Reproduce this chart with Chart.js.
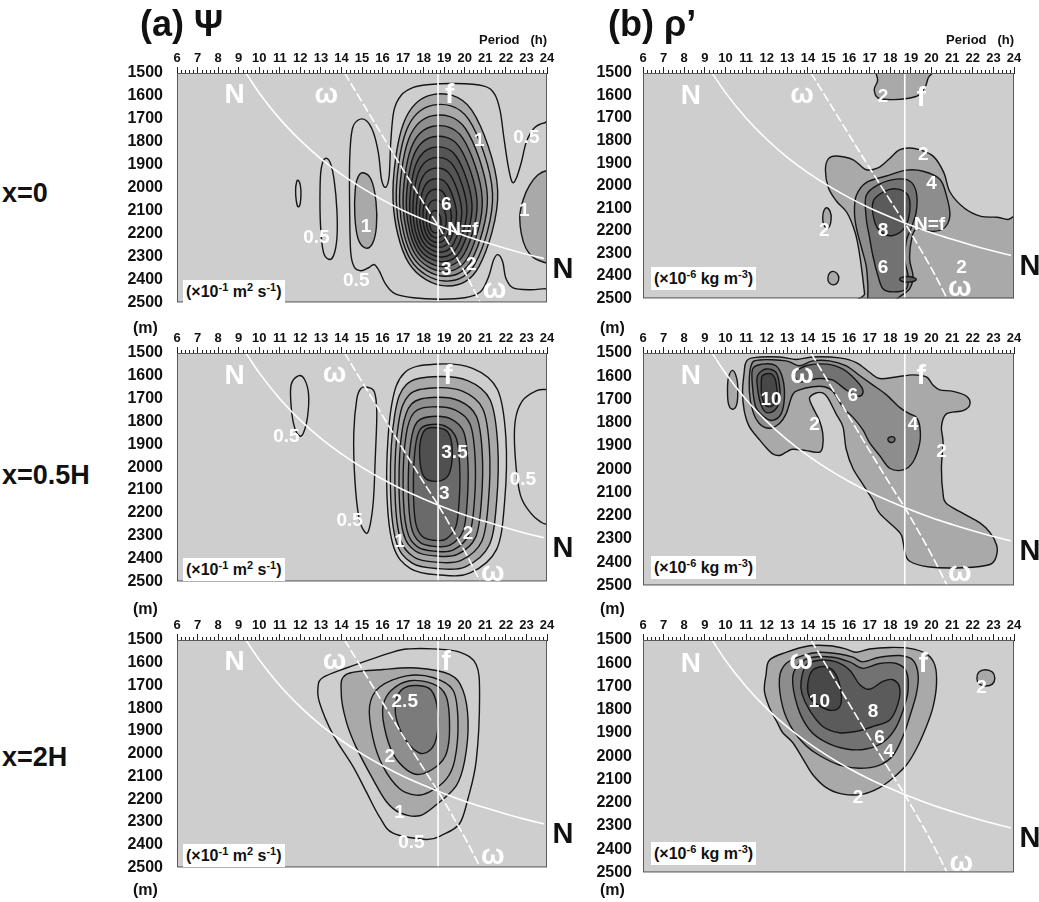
<!DOCTYPE html>
<html>
<head>
<meta charset="utf-8">
<title>Period–depth spectra of Ψ and ρ'</title>
<script src="https://cdn.jsdelivr.net/npm/chart.js@4.4.1/dist/chart.umd.min.js"></script>
<style>
  html, body { margin: 0; padding: 0; background: #fff; }
  body { position: relative; width: 1039px; height: 902px; overflow: hidden;
         font-family: "Liberation Sans", Arial, Helvetica, sans-serif; color: #111; }
  canvas { position: absolute; z-index: 1; }
  .txt { position: absolute; z-index: 2; font-weight: bold; white-space: nowrap; line-height: 1; }
  .unit { position: absolute; z-index: 2; background: #fff; font-weight: bold; font-size: 16px; line-height: 1;
          padding: 4px 3px 3px 3px; white-space: nowrap; }
  .unit sup { font-size: 11px; vertical-align: 6px; line-height: 0; }
</style>
</head>
<body>
<div class="txt" style="left:140px;top:6px;font-size:36px;">(a) Ψ</div>
<div class="txt" style="left:608px;top:6px;font-size:36px;">(b) ρ’</div>
<div class="txt" style="left:2px;top:180px;font-size:27px;">x=0</div>
<div class="txt" style="left:2px;top:462px;font-size:27px;">x=0.5H</div>
<div class="txt" style="left:2px;top:744px;font-size:27px;">x=2H</div>
<div class="txt" style="left:133px;top:320px;font-size:16px;">(m)</div>
<div class="txt" style="left:133px;top:601px;font-size:16px;">(m)</div>
<div class="txt" style="left:133px;top:882px;font-size:16px;">(m)</div>
<div class="txt" style="left:600px;top:320px;font-size:16px;">(m)</div>
<div class="txt" style="left:600px;top:601px;font-size:16px;">(m)</div>
<div class="txt" style="left:600px;top:882px;font-size:16px;">(m)</div>
<div class="unit" style="left:183px;top:280px;">(×10<sup>-1</sup> m<sup>2</sup> s<sup>-1</sup>)</div>
<div class="unit" style="left:183px;top:558px;">(×10<sup>-1</sup> m<sup>2</sup> s<sup>-1</sup>)</div>
<div class="unit" style="left:183px;top:844px;">(×10<sup>-1</sup> m<sup>2</sup> s<sup>-1</sup>)</div>
<div class="unit" style="left:651px;top:267px;">(×10<sup>-6</sup> kg m<sup>-3</sup>)</div>
<div class="unit" style="left:651px;top:556px;">(×10<sup>-6</sup> kg m<sup>-3</sup>)</div>
<div class="unit" style="left:651px;top:842px;">(×10<sup>-6</sup> kg m<sup>-3</sup>)</div>

<script>
const FONT = '"Liberation Sans", Arial, Helvetica, sans-serif';

// ---- axes ----
const periodTicks = [6,7,8,9,10,11,12,13,14,15,16,17,18,19,20,21,22,23,24];
const depthTicks = [1500,1600,1700,1800,1900,2000,2100,2200,2300,2400,2500];

// ---- reference curves: [period (h), depth (m)] ----
const buoyancyCurve = [[9.35,1500],[10,1587],[11,1700],[12,1794],[13,1874],[14,1942],[15,2001],
  [16,2053],[17,2099],[18,2139],[18.7,2165],[20,2209],[21,2238],[22,2265],[23,2290],[23.85,2309]];
const omegaCurve = [[14.15,1500],[15.5,1700],[16.85,1900],[18.2,2095],[18.7,2165],[19.35,2265],
  [20.1,2385],[20.75,2500]];
const inertialLine = [[18.7,1500],[18.7,2500]];

// ---- contours: [level, [[period, depth], ...]] (closed outlines) ----
const psiX0 = [
  [0.5, [[11.9,1968],[12.0,1990],[12.03,2030],[11.98,2075],[11.88,2082],[11.8,2055],[11.77,2010],[11.82,1975]]],
  [0.5, [[13.2,1873],[13.45,1890],[13.65,1970],[13.78,2100],[13.78,2220],[13.62,2295],[13.38,2312],[13.12,2280],[12.98,2160],[12.96,2000],[13.02,1915]]],
  [0.5, [[24.5,1717],[23.9,1717],[23.4,1738],[23.0,1800],[22.75,1890],[22.5,1960],[22.3,1975],[22.1,1900],[21.9,1780],[21.72,1665],[21.45,1592],[20.9,1556],[19.5,1546],[18.3,1550],[17.5,1563],[16.9,1598],[16.55,1665],[16.4,1800],[16.32,1950],[16.15,1998],[15.95,1965],[15.8,1850],[15.55,1758],[15.2,1707],[14.8,1706],[14.52,1748],[14.4,1880],[14.4,2100],[14.45,2280],[14.62,2345],[14.95,2362],[15.3,2350],[15.6,2335],[15.85,2365],[16.15,2420],[16.6,2462],[17.5,2480],[18.8,2486],[20.0,2480],[20.75,2455],[21.15,2390],[21.4,2315],[21.62,2292],[21.85,2325],[22.0,2395],[22.35,2437],[23.2,2445],[23.9,2440],[24.5,2440]]],
  [1, [[15.05,1935],[15.45,1965],[15.68,2060],[15.7,2170],[15.5,2245],[15.15,2262],[14.8,2220],[14.65,2120],[14.67,2010],[14.8,1955]]],
  [1, [[24.5,1925],[24,1925],[23.55,1945],[23.15,1990],[22.85,2050],[22.68,2120],[22.75,2200],[22.98,2265],[23.35,2305],[23.75,2322],[24,2328],[24.5,2330]]],
  [1, [[18.44,1594],[20.33,1661],[21.6,2011],[20.68,2345],[19.06,2428],[17.27,2328],[16.51,2053],[17.02,1719]]],
  [1.5, [[18.45,1640],[20.18,1701],[21.35,2024],[20.51,2330],[19.01,2407],[17.37,2315],[16.67,2062],[17.14,1755]]],
  [2, [[18.45,1686],[20.03,1742],[21.1,2036],[20.33,2316],[18.97,2386],[17.47,2302],[16.83,2071],[17.26,1791]]],
  [2.5, [[18.46,1732],[19.89,1783],[20.85,2049],[20.16,2302],[18.93,2365],[17.58,2289],[17.0,2080],[17.39,1827]]],
  [3, [[18.47,1778],[19.74,1823],[20.6,2061],[19.98,2287],[18.88,2344],[17.68,2276],[17.16,2089],[17.5,1863]]],
  [3.5, [[18.47,1824],[19.59,1864],[20.35,2074],[19.8,2273],[18.84,2323],[17.77,2263],[17.32,2098],[17.62,1899]]],
  [4, [[18.48,1870],[19.45,1905],[20.1,2086],[19.63,2259],[18.79,2302],[17.87,2250],[17.48,2108],[17.74,1935]]],
  [4.5, [[18.48,1916],[19.3,1945],[19.85,2099],[19.45,2245],[18.75,2281],[17.97,2237],[17.64,2117],[17.86,1971]]],
  [5, [[18.48,1962],[19.15,1986],[19.6,2111],[19.28,2230],[18.7,2260],[18.07,2224],[17.8,2126],[17.98,2007]]],
  [5.5, [[18.49,2008],[19.0,2026],[19.35,2124],[19.1,2216],[18.66,2239],[18.18,2211],[17.97,2135],[18.11,2043]]],
  [6, [[18.5,2054],[18.86,2067],[19.1,2136],[18.93,2202],[18.62,2218],[18.28,2198],[18.13,2144],[18.23,2079]]],
  [6.5, [[18.5,2100],[18.71,2108],[18.85,2149],[18.75,2187],[18.57,2197],[18.37,2185],[18.29,2153],[18.35,2115]]]
];
const psiX05 = [
  [0.5, [[11.9,1600],[12.2,1615],[12.4,1680],[12.35,1780],[12.15,1850],[11.95,1862],[11.7,1820],[11.55,1730],[11.55,1640]]],
  [0.5, [[15.25,1650],[15.6,1670],[15.72,1760],[15.65,1950],[15.55,2150],[15.35,2270],[15.15,2285],[14.85,2220],[14.65,2050],[14.6,1850],[14.75,1700],[14.95,1655]]],
  [0.5, [[24.5,1660],[24,1660],[23.5,1665],[22.8,1710],[22.45,1800],[22.45,1950],[22.7,2120],[23.2,2200],[23.7,2240],[24,2250],[24.5,2250]]],
  [0.5, [[18.52,1549],[20.38,1567],[21.59,1660],[22.0,1872],[21.94,2149],[21.54,2361],[20.26,2463],[18.81,2472],[17.36,2444],[16.49,2334],[16.2,2057],[16.43,1734],[17.07,1586]]],
  [1, [[18.47,1604],[20.14,1621],[21.23,1705],[21.6,1898],[21.55,2150],[21.18,2343],[20.03,2436],[18.73,2444],[17.42,2419],[16.64,2318],[16.38,2066],[16.59,1772],[17.16,1638]]],
  [1.5, [[18.44,1653],[19.91,1668],[20.88,1745],[21.2,1920],[21.15,2149],[20.83,2324],[19.82,2408],[18.67,2416],[17.52,2393],[16.83,2302],[16.6,2073],[16.78,1806],[17.29,1684]]],
  [2, [[18.42,1695],[19.72,1709],[20.57,1778],[20.85,1938],[20.81,2146],[20.53,2306],[19.64,2382],[18.62,2389],[17.61,2368],[17.0,2285],[16.8,2077],[16.96,1834],[17.41,1723]]],
  [2.5, [[18.4,1736],[19.52,1749],[20.26,1812],[20.5,1957],[20.47,2147],[20.22,2292],[19.45,2362],[18.58,2368],[17.7,2349],[17.18,2273],[17.0,2084],[17.14,1862],[17.53,1761]]],
  [3, [[18.41,1778],[19.34,1789],[19.95,1846],[20.15,1977],[20.12,2148],[19.92,2279],[19.28,2341],[18.56,2347],[17.83,2330],[17.4,2262],[17.25,2091],[17.37,1892],[17.69,1801]]],
  [3.5, [[18.4,1813],[19.12,1823],[19.59,1874],[19.75,1990],[19.73,2143],[19.57,2259],[19.08,2315],[18.51,2320],[17.95,2305],[17.61,2244],[17.5,2092],[17.59,1914],[17.84,1833]]],
  [4, [[18.44,1826],[19.16,1845],[19.4,1932],[19.21,2034],[18.6,2062],[17.99,2038],[17.8,1932],[17.99,1845]]]
];
const psiX2 = [
  [0.5, [[17.32,1539],[18.45,1539],[19.75,1553],[20.56,1609],[20.72,1749],[20.56,2028],[20.16,2196],[19.75,2307],[18.94,2356],[18.13,2377],[16.51,2349],[15.86,2279],[15.21,2168],[14.56,2056],[13.59,1916],[12.94,1777],[12.86,1707],[13.1,1665],[14.24,1623],[16.5,1553]]],
  [1, [[16.02,1630],[17.64,1623],[19.26,1651],[19.91,1721],[20.16,1860],[20.0,2028],[19.59,2140],[18.62,2224],[17.8,2273],[16.83,2259],[16.18,2210],[15.53,2112],[14.72,1972],[14.24,1860],[13.99,1735],[14.24,1651]]],
  [1.5, [[17.16,1658],[18.45,1665],[19.43,1721],[19.67,1860],[19.51,2028],[19.1,2112],[18.29,2168],[17.64,2182],[16.83,2154],[16.02,2056],[15.53,1930],[15.37,1791],[15.86,1707]]],
  [2, [[17.32,1679],[18.45,1693],[19.1,1749],[19.26,1888],[19.1,2000],[18.62,2056],[17.8,2091],[17.16,2070],[16.51,2000],[16.1,1888],[16.02,1791],[16.43,1721]]],
  [2.5, [[17.64,1700],[18.37,1721],[18.7,1819],[18.62,1930],[18.29,1986],[17.8,1997],[17.16,1944],[16.67,1846],[16.67,1763],[17.0,1714]]]
];
const rhoX0 = [
  [2, [[17.2,1480],[17.3,1500],[17.38,1535],[17.22,1572],[17.4,1610],[18.1,1618],[18.9,1612],[19.4,1597],[19.7,1560],[19.85,1520],[20.05,1500],[20.1,1480]]],
  [2, [[14.85,1930],[15.0,1880],[15.4,1868],[16.2,1885],[16.8,1928],[17.4,1921],[17.9,1885],[18.4,1843],[18.9,1833],[19.4,1840],[20.1,1871],[20.6,1943],[20.9,2029],[21.6,2100],[22.4,2136],[23.2,2140],[23.7,2150],[24.5,2150],[24.5,2530],[16.8,2530],[16.75,2480],[16.65,2400],[16.5,2300],[16.3,2210],[15.9,2120],[15.4,2070],[15.0,2010]]],
  [2, [[14.92,2098],[15.08,2115],[15.13,2145],[15.05,2180],[14.9,2188],[14.76,2170],[14.72,2140],[14.78,2110]]],
  [2, [[15.22,2380],[15.42,2390],[15.5,2410],[15.42,2432],[15.22,2440],[15.03,2430],[14.97,2410],[15.05,2388]]],
  [4, [[16.83,1986],[17.8,1957],[18.78,1931],[19.59,1936],[20.4,1971],[20.72,2043],[20.89,2129],[20.64,2186],[20.07,2203],[19.26,2193],[19.02,2243],[18.94,2329],[19.1,2400],[18.94,2457],[18.45,2493],[17.8,2530],[16.99,2530],[16.91,2443],[16.83,2357],[16.59,2271],[16.35,2186],[16.26,2114],[16.35,2043]]],
  [6, [[17.48,1993],[18.29,1971],[18.94,1979],[19.26,2029],[19.26,2114],[19.02,2186],[18.78,2243],[18.7,2329],[18.86,2400],[18.78,2457],[18.13,2471],[17.64,2457],[17.4,2400],[17.16,2314],[16.99,2229],[16.83,2143],[16.83,2043]]],
  [8, [[17.64,2029],[18.29,2014],[18.86,2043],[18.94,2114],[18.7,2186],[18.13,2221],[17.56,2207],[17.23,2157],[17.16,2071]]],
  [8, [[18.86,2403],[19.15,2408],[19.26,2415],[19.15,2424],[18.86,2428],[18.55,2424],[18.45,2415],[18.55,2407]]]
];
const rhoX05 = [
  [2, [[10.35,1575],[10.55,1610],[10.6,1660],[10.55,1720],[10.35,1742],[10.15,1720],[10.1,1660],[10.15,1605]]],
  [2, [[10.99,1541],[11.32,1521],[12.62,1517],[13.43,1528],[14.24,1517],[15.53,1521],[16.35,1541],[16.99,1583],[17.48,1610],[18.29,1603],[19.1,1594],[19.75,1603],[20.07,1638],[20.4,1659],[21.05,1665],[21.7,1686],[21.86,1721],[21.53,1748],[20.72,1762],[20.48,1817],[20.56,1886],[20.48,1996],[20.56,2107],[20.72,2148],[21.53,2190],[22.35,2231],[22.83,2272],[23.16,2327],[23.16,2369],[22.83,2410],[21.53,2424],[19.91,2421],[18.94,2396],[18.7,2355],[18.62,2314],[18.45,2272],[17.48,2190],[17.16,2134],[16.67,2065],[16.18,1996],[15.86,1914],[15.7,1817],[15.37,1762],[14.97,1693],[14.72,1672],[14.4,1672],[14.08,1693],[14.24,1734],[14.56,1790],[14.72,1845],[14.72,1900],[14.56,1927],[13.91,1920],[13.26,1914],[12.94,1927],[12.62,1941],[12.29,1934],[11.97,1907],[11.64,1872],[11.16,1817],[10.91,1748],[10.83,1665],[10.91,1583]]],
  [4, [[11.24,1555],[11.64,1530],[12.94,1534],[13.59,1555],[14.24,1534],[15.05,1534],[15.86,1555],[16.51,1597],[17.16,1638],[17.8,1679],[18.45,1734],[18.94,1762],[19.26,1776],[19.43,1817],[19.43,1886],[19.1,1969],[18.62,2003],[17.97,1996],[17.48,1941],[16.99,1886],[16.67,1831],[16.18,1776],[15.7,1734],[15.21,1665],[14.8,1645],[14.24,1645],[13.59,1659],[13.26,1679],[12.94,1762],[12.62,1803],[12.13,1824],[11.64,1803],[11.32,1748],[11.16,1665]]],
  [6, [[11.32,1569],[11.8,1548],[12.45,1555],[12.78,1610],[12.86,1693],[12.7,1762],[12.29,1790],[11.89,1776],[11.48,1734],[11.32,1652]]],
  [6, [[13.35,1590],[13.91,1555],[14.89,1548],[15.7,1569],[16.18,1603],[16.59,1645],[16.67,1672],[16.43,1686],[15.86,1659],[15.21,1617],[14.56,1610],[14.08,1617],[13.59,1624]]],
  [6, [[18.05,1860],[18.2,1865],[18.22,1874],[18.15,1883],[18.02,1885],[17.9,1878],[17.9,1867]]],
  [8, [[11.56,1597],[11.97,1569],[12.45,1583],[12.62,1638],[12.62,1707],[12.37,1748],[11.97,1755],[11.72,1721],[11.56,1652]]],
  [10, [[11.8,1597],[12.21,1590],[12.45,1624],[12.48,1693],[12.29,1727],[11.97,1727],[11.77,1686],[11.74,1631]]]
];
const rhoX2 = [
  [2, [[11.97,1650],[12.13,1587],[12.94,1553],[14.08,1525],[15.05,1525],[15.86,1539],[16.35,1553],[16.99,1539],[17.97,1532],[18.94,1536],[19.75,1560],[20.16,1608],[20.24,1691],[20.07,1789],[19.75,1872],[19.26,1969],[18.78,2038],[18.13,2094],[17.48,2135],[16.67,2163],[15.7,2163],[14.89,2135],[14.24,2080],[13.75,2010],[13.26,1941],[12.78,1899],[12.53,1858],[12.13,1789],[11.89,1719]]],
  [2, [[22.6,1628],[22.95,1638],[23.07,1665],[22.95,1690],[22.6,1698],[22.3,1688],[22.2,1663],[22.3,1638]]],
  [4, [[12.62,1664],[12.94,1601],[13.75,1567],[14.56,1553],[15.53,1560],[16.18,1574],[16.67,1594],[17.48,1574],[18.45,1567],[19.1,1587],[19.35,1650],[19.26,1733],[18.94,1830],[18.62,1913],[18.13,1997],[17.48,2038],[16.51,2052],[15.53,2038],[14.56,1997],[13.91,1955],[13.26,1886],[12.78,1789]]],
  [6, [[13.26,1664],[13.59,1601],[14.24,1574],[15.21,1574],[16.02,1594],[16.67,1622],[17.48,1601],[18.29,1601],[18.78,1636],[18.86,1719],[18.62,1802],[18.21,1886],[17.64,1941],[16.83,1969],[15.86,1969],[14.89,1941],[14.08,1886],[13.51,1789]]],
  [8, [[13.67,1678],[13.91,1608],[14.56,1587],[15.37,1594],[16.02,1629],[16.51,1691],[16.99,1712],[17.64,1678],[18.13,1671],[18.45,1705],[18.37,1775],[17.97,1844],[17.16,1872],[16.35,1893],[15.53,1899],[14.72,1872],[14.08,1802],[13.72,1733]]],
  [10, [[13.99,1691],[14.24,1629],[14.89,1615],[15.37,1650],[15.62,1733],[15.53,1789],[15.05,1802],[14.4,1775],[14.08,1747]]]
];

// ---- contour value labels: [level, period, depth] ----
const psiX0Labels = [[1,20.7,1790],[6,19.1,2067],[3,19.1,2351],[2,20.32,2331],[0.5,12.78,2213],[0.5,14.72,2400],[0.5,23.0,1775],[1,15.2,2164],[1,22.9,2094]];
const psiX05Labels = [[3.5,19.5,1930],[3,19.0,2111],[2,20.16,2285],[1,16.83,2320],[0.5,14.4,2229],[0.5,11.32,1861],[0.5,22.83,2049]];
const psiX2Labels = [[2.5,17.08,1763],[2,16.35,2007],[1,16.83,2252],[0.5,17.4,2384]];
const rhoX0Labels = [[2,17.64,1600],[2,19.6,1857],[4,20.0,1986],[8,17.64,2193],[6,17.64,2357],[2,14.8,2193],[2,21.45,2357]];
const rhoX05Labels = [[10,12.21,1693],[6,16.18,1679],[2,14.32,1803],[4,19.1,1803],[2,20.48,1920]];
const rhoX2Labels = [[10,14.56,1761],[8,17.16,1802],[6,17.48,1913],[4,17.93,1976],[2,16.43,2170],[2,22.43,1698]];

// ---- curve name tags: [text, period, depth] ----
const tagsA0 = [['N',8.8,1587],['ω',13.26,1601],['f',19.26,1587],['ω',21.45,2449],['N=f',19.9,2178]];
const tagsA1 = [['N',8.8,1590],['ω',13.67,1597],['f',19.18,1590],['ω',21.37,2465]];
const tagsA2 = [['N',8.8,1588],['ω',13.67,1595],['f',19.1,1588],['ω',21.37,2454]];
const tagsB0 = [['N',8.32,1593],['ω',13.72,1600],['f',19.5,1600],['ω',21.37,2457],['N=f',19.9,2164]];
const tagsB1 = [['N',8.32,1590],['ω',13.72,1597],['f',19.5,1590],['ω',21.37,2451]];
const tagsB2 = [['N',8.32,1594],['ω',13.67,1595],['f',19.59,1594],['ω',21.45,2461]];

// ---- shading per contour level ----
const shadePsi0 = [[1,'#a9a9a9'],[2,'#8e8e8e'],[2.5,'#777777'],[3,'#636363'],[3.5,'#555555'],[5,'#4b4b4b']];
const shadePsi1 = [[1,'#a9a9a9'],[2,'#8f8f8f'],[3,'#777777'],[3.5,'#6a6a6a'],[4,'#505050']];
const shadePsi2 = [[1,'#a9a9a9'],[2,'#8e8e8e'],[2.5,'#7b7b7b']];
const shadeRho = [[2,'#a9a9a9'],[4,'#8d8d8d'],[6,'#727272'],[8,'#5b5b5b'],[10,'#484848']];

function shadeFor(table, lv) {
  let c = null;
  for (const [min, col] of table) if (lv >= min) c = col;
  return c;
}

// closed Catmull-Rom outline through pixel points
function closedSpline(ctx, p) {
  const n = p.length;
  ctx.moveTo(p[0][0], p[0][1]);
  for (let i = 0; i < n; i++) {
    const p0 = p[(i - 1 + n) % n], p1 = p[i], p2 = p[(i + 1) % n], p3 = p[(i + 2) % n];
    ctx.bezierCurveTo(p1[0] + (p2[0] - p0[0]) / 6, p1[1] + (p2[1] - p0[1]) / 6,
                      p2[0] - (p3[0] - p1[0]) / 6, p2[1] - (p3[1] - p1[1]) / 6, p2[0], p2[1]);
  }
  ctx.closePath();
}

const plotBackground = {
  id: 'plotBackground',
  beforeDraw(chart) {
    const {ctx, chartArea: a} = chart;
    ctx.save();
    ctx.fillStyle = '#cecece';
    ctx.fillRect(a.left, a.top, a.right - a.left, a.bottom - a.top);
    ctx.restore();
  }
};

const contourFill = {
  id: 'contourFill',
  beforeDatasetsDraw(chart) {
    const {ctx, chartArea: a} = chart;
    const shades = chart.options.plugins.contourFill.shades;
    ctx.save();
    ctx.beginPath();
    ctx.rect(a.left, a.top, a.right - a.left, a.bottom - a.top);
    ctx.clip();
    ctx.lineJoin = 'round';
    chart.data.datasets.forEach((ds, i) => {
      if (!ds.contourLevel) return;
      const pts = chart.getDatasetMeta(i).data.map(e => [e.x, e.y]);
      ctx.beginPath();
      closedSpline(ctx, pts);
      const fillCol = shadeFor(shades, ds.contourLevel);
      if (fillCol) { ctx.fillStyle = fillCol; ctx.fill(); }
      ctx.lineWidth = 1.4;
      ctx.strokeStyle = '#151515';
      ctx.stroke();
    });
    ctx.restore();
  }
};

const annotations = {
  id: 'annotations',
  afterDatasetsDraw(chart) {
    const {ctx, chartArea: a, scales: {x, y}} = chart;
    const o = chart.options.plugins.annotations;
    ctx.save();
    // frame
    ctx.strokeStyle = '#5a5a5a';
    ctx.lineWidth = 1;
    ctx.strokeRect(a.left + 0.5, a.top + 0.5, a.right - a.left - 1, a.bottom - a.top - 1);
    // minor period ticks every 0.2 h
    ctx.strokeStyle = '#222';
    ctx.beginPath();
    for (let i = 0; i <= 90; i++) {
      if (i % 5 === 0) continue;
      const px = Math.round(x.getPixelForValue(6 + i * 0.2)) + 0.5;
      ctx.moveTo(px, a.top);
      ctx.lineTo(px, a.top - 3);
    }
    ctx.stroke();
    // in-plot text, clipped to the plot
    ctx.save();
    ctx.beginPath();
    ctx.rect(a.left, a.top, a.right - a.left, a.bottom - a.top);
    ctx.clip();
    ctx.fillStyle = '#fff';
    ctx.textAlign = 'center';
    ctx.textBaseline = 'alphabetic';
    for (const [lv, p, d] of o.values) {
      ctx.font = `bold 19px ${FONT}`;
      ctx.fillText(String(lv), x.getPixelForValue(p), y.getPixelForValue(d) + 19 * 0.36);
    }
    for (const [t, p, d] of o.tags) {
      const size = t === 'N=f' ? 19 : 28;
      const off = t === 'ω' ? 0.26 : 0.36;
      ctx.font = `bold ${size}px ${FONT}`;
      ctx.fillText(t, x.getPixelForValue(p), y.getPixelForValue(d) + size * off);
    }
    ctx.restore();
    // black N at the right end of the buoyancy curve
    const last = buoyancyCurve[buoyancyCurve.length - 1];
    ctx.fillStyle = '#111';
    ctx.font = `bold 29px ${FONT}`;
    ctx.textAlign = 'center';
    ctx.textBaseline = 'alphabetic';
    ctx.fillText('N', a.right + 16, y.getPixelForValue(last[1]) + 9 + 29 * 0.36);
    ctx.restore();
  }
};

const xy = arr => arr.map(([px, d]) => ({x: px, y: d}));

function makePanel(g, rings, values, tags, shades) {
  const cv = document.createElement('canvas');
  cv.width = g.w; cv.height = g.h;
  cv.style.left = g.x + 'px'; cv.style.top = g.y + 'px';
  document.body.appendChild(cv);

  const datasets = rings.map(([lv, pts]) => ({
    data: xy(pts), contourLevel: lv, showLine: false, pointRadius: 0
  }));
  const whiteLine = (pts, dash) => ({
    data: xy(pts), showLine: true, borderColor: '#ffffff', borderWidth: 1.6,
    borderDash: dash, pointRadius: 0, fill: false, cubicInterpolationMode: 'monotone'
  });
  datasets.push(whiteLine(buoyancyCurve, []));
  datasets.push(whiteLine(omegaCurve, [9, 3]));
  datasets.push(whiteLine(inertialLine, []));

  new Chart(cv, {
    type: 'scatter',
    data: {datasets},
    options: {
      responsive: false, animation: false, devicePixelRatio: 1, events: [],
      layout: {padding: {left: 0, top: 0, right: g.padR, bottom: 12}},
      plugins: {
        legend: {display: false}, tooltip: {enabled: false},
        contourFill: {shades},
        annotations: {values, tags}
      },
      scales: {
        x: {
          type: 'linear', position: 'top', min: 6, max: 24,
          afterBuildTicks: s => { s.ticks = periodTicks.map(v => ({value: v})); },
          ticks: {autoSkip: false, maxRotation: 0, padding: 1, color: '#111',
                  font: {family: FONT, weight: 'bold', size: 13}, callback: v => String(v)},
          grid: {drawOnChartArea: false, drawTicks: true, tickLength: 6, color: '#222', tickColor: '#222'},
          border: {display: true, color: '#111', width: 1},
          title: {display: g.title, text: 'Period   (h)', align: 'end', color: '#111',
                  padding: {top: 0, bottom: 0}, font: {family: FONT, weight: 'bold', size: 13}},
          afterFit: s => { s.height = g.topH; }
        },
        y: {
          type: 'linear', reverse: true, min: 1500, max: 2500,
          afterBuildTicks: s => { s.ticks = depthTicks.map(v => ({value: v})); },
          ticks: {autoSkip: false, padding: g.yPad, color: '#111',
                  font: {family: FONT, weight: 'bold', size: 16}, callback: v => String(v)},
          grid: {display: false, drawTicks: false},
          border: {display: false},
          afterFit: s => { s.width = g.yW; }
        }
      }
    },
    plugins: [plotBackground, contourFill, annotations]
  });
}

const colA = {x: 100, w: 480, yW: 77, yPad: 14, padR: 33};
const colB = {x: 585, w: 454, yW: 58, yPad: 11, padR: 25};
const geo = (col, y, topH, areaH, title) => Object.assign({}, col, {y, topH, h: topH + areaH + 12, title});

makePanel(geo(colA, 33, 40, 241, true), psiX0, psiX0Labels, tagsA0, shadePsi0);
makePanel(geo(colB, 33, 40, 234, true), rhoX0, rhoX0Labels, tagsB0, shadeRho);
makePanel(geo(colA, 329, 24, 240, false), psiX05, psiX05Labels, tagsA1, shadePsi1);
makePanel(geo(colB, 329, 24, 241, false), rhoX05, rhoX05Labels, tagsB1, shadeRho);
makePanel(geo(colA, 616, 24, 239, false), psiX2, psiX2Labels, tagsA2, shadePsi2);
makePanel(geo(colB, 616, 24, 241, false), rhoX2, rhoX2Labels, tagsB2, shadeRho);
</script>
</body>
</html>
